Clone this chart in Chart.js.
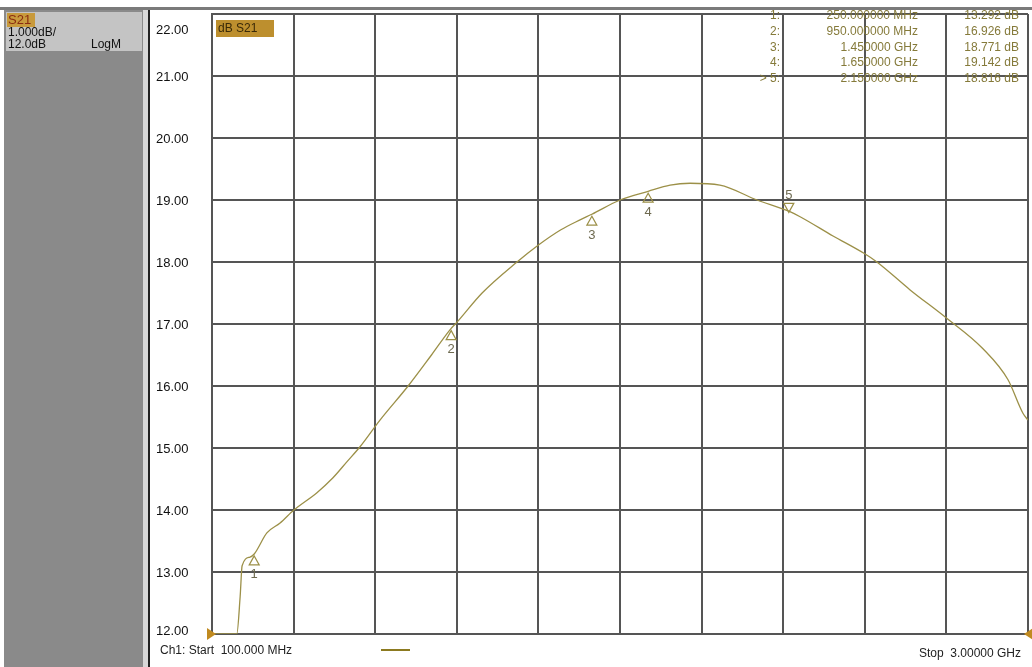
<!DOCTYPE html>
<html>
<head>
<meta charset="utf-8">
<script src="https://cdn.jsdelivr.net/npm/chart.js@4.4.0/dist/chart.umd.min.js"></script>
<style>
  html, body { margin: 0; padding: 0; background: #fff; overflow: hidden; }
  canvas { display: block; }
</style>
</head>
<body>
<canvas id="vna" width="1032" height="667" style="width:1032px;height:667px"></canvas>
<script>
    // trace S21 (MHz, dB)
    var freqMHz = [100, 150, 188, 200, 207, 235, 250, 295, 342, 391, 473, 530, 580, 626, 697, 797, 880, 950, 965,
        1060, 1184, 1259, 1340, 1408, 1450, 1550, 1650, 1728, 1799, 1905, 2037, 2150, 2190, 2307, 2417, 2463,
        2581, 2709, 2840, 2929, 2982, 3000];
    var s21dB = [12.0, 12.0, 12.0, 12.6, 13.1, 13.24, 13.29, 13.63, 13.79, 14.0, 14.28, 14.52, 14.78, 15.02, 15.45, 16.0, 16.5, 16.93, 17.0,
        17.5, 18.0, 18.27, 18.52, 18.68, 18.77, 19.0, 19.14, 19.24, 19.27, 19.24, 19.0, 18.82, 18.73, 18.42, 18.14, 18.0,
        17.55, 17.1, 16.6, 16.1, 15.56, 15.45];

    // markers
    var markerNo = ['1', '2', '3', '4', '5'];
    var markerMHz = [250, 950, 1450, 1650, 2150];
    var markerDb = [13.292, 16.926, 18.771, 19.142, 18.816];
    var markerFreqText = ['250.000000 MHz', '950.000000 MHz', '1.450000 GHz', '1.650000 GHz', '2.150000 GHz'];
    var markerValText = ['13.292 dB', '16.926 dB', '18.771 dB', '19.142 dB', '18.816 dB'];
    var activeMarker = 4;

    // axis
    var startMHz = 100, stopMHz = 3000;
    var refMin = 12, refMax = 22;
    var yTickLabels = ['12.00', '13.00', '14.00', '15.00', '16.00', '17.00', '18.00', '19.00', '20.00', '21.00', '22.00'];

    var traceColor = '#9c9048';
    var markTextColor = '#857a3a';
    var gridColor = '#555555';

    var pts = freqMHz.map(function (f, i) { return { x: f, y: s21dB[i] }; });

    var screenPlugin = {
        id: 'screen',
        beforeDraw: function (chart) {
            var c = chart.ctx;
            c.save();
            c.fillStyle = '#ffffff';
            c.fillRect(0, 0, chart.width, chart.height);
            // top bar
            c.fillStyle = '#7a7a7a';
            c.fillRect(0, 7, chart.width, 3);
            // left panel
            c.fillStyle = '#8a8a8a';
            c.fillRect(4, 10, 139, chart.height - 10);
            c.fillStyle = '#c4c4c4';
            c.fillRect(6, 12, 136, 39);
            c.fillStyle = '#d8d8d8';
            c.fillRect(143, 10, 5, chart.height - 10);
            c.fillStyle = '#222222';
            c.fillRect(148, 10, 2, chart.height - 10);
            c.restore();
        },
        afterDraw: function (chart) {
            var c = chart.ctx;
            var xs = chart.scales.x, ys = chart.scales.y;
            var a = chart.chartArea;
            c.save();
            c.font = '13px "Liberation Sans", Arial, sans-serif';
            c.textBaseline = 'middle';

            // S21 channel box
            c.fillStyle = '#c89a3c';
            c.fillRect(7, 13, 28, 14);
            c.fillStyle = '#8a2c10';
            c.textAlign = 'left';
            c.fillText('S21', 8, 20);
            c.fillStyle = '#111';
            c.font = '12px "Liberation Sans", Arial, sans-serif';
            c.fillText('1.000dB/', 8, 33);
            c.fillText('12.0dB', 8, 45);
            c.fillText('LogM', 91, 45);

            // y labels
            c.font = '13px "Liberation Sans", Arial, sans-serif';
            c.fillStyle = '#111';
            yTickLabels.forEach(function (t) {
                var py = ys.getPixelForValue(parseFloat(t));
                py = Math.max(a.top + 16, Math.min(a.bottom - 3, py + 1));
                c.fillText(t, 156, py);
            });

            // dB S21 title
            c.fillStyle = '#bd8f2e';
            c.fillRect(216, 20, 58, 17);
            c.fillStyle = '#3a2a08';
            c.font = '12px "Liberation Sans", Arial, sans-serif';
            c.fillText('dB S21', 218, 29);

            // marker table
            c.font = '12px "Liberation Sans", Arial, sans-serif';
            c.fillStyle = markTextColor;
            c.textAlign = 'right';
            for (var i = 0; i < markerNo.length; i++) {
                var ry = 16 + i * 15.6;
                c.fillText((i === activeMarker ? '> ' : '') + markerNo[i] + ':', 780, ry);
                c.fillText(markerFreqText[i], 918, ry);
                c.fillText(markerValText[i], 1019, ry);
            }

            // marker triangles on trace
            c.strokeStyle = traceColor;
            c.lineWidth = 1.2;
            c.textAlign = 'center';
            c.font = '13px "Liberation Sans", Arial, sans-serif';
            c.fillStyle = '#6e6a50';
            for (var j = 0; j < markerMHz.length; j++) {
                var px = xs.getPixelForValue(markerMHz[j]);
                var py2 = ys.getPixelForValue(markerDb[j]);
                c.beginPath();
                if (j === activeMarker) {
                    c.moveTo(px, py2 + 1);
                    c.lineTo(px - 5, py2 - 8);
                    c.lineTo(px + 5, py2 - 8);
                    c.closePath();
                    c.stroke();
                    c.fillText(markerNo[j], px, py2 - 16);
                } else {
                    c.moveTo(px, py2 + 2);
                    c.lineTo(px - 5, py2 + 11);
                    c.lineTo(px + 5, py2 + 11);
                    c.closePath();
                    c.stroke();
                    c.fillText(markerNo[j], px, py2 + 21);
                }
            }

            // reference arrows at the edges
            var ry0 = ys.getPixelForValue(refMin);
            c.fillStyle = '#c08a20';
            c.beginPath();
            c.moveTo(a.left + 4, ry0);
            c.lineTo(a.left - 5, ry0 - 6);
            c.lineTo(a.left - 5, ry0 + 6);
            c.closePath();
            c.fill();
            c.beginPath();
            c.moveTo(a.right - 4, ry0);
            c.lineTo(a.right + 5, ry0 - 6);
            c.lineTo(a.right + 5, ry0 + 6);
            c.closePath();
            c.fill();

            // footer
            c.fillStyle = '#222';
            c.textAlign = 'left';
            c.font = '12px "Liberation Sans", Arial, sans-serif';
            c.fillText('Ch1: Start  ' + startMHz.toFixed(3) + ' MHz', 160, 651);
            c.strokeStyle = '#8c7a20';
            c.lineWidth = 2;
            c.beginPath();
            c.moveTo(381, 650);
            c.lineTo(410, 650);
            c.stroke();
            c.textAlign = 'right';
            c.fillText('Stop  ' + (stopMHz / 1000).toFixed(5) + ' GHz', 1021, 654);
            c.restore();
        }
    };

    var ctx = document.getElementById('vna').getContext('2d');
    var chart = new Chart(ctx, {
        type: 'scatter',
        data: {
            datasets: [{
                data: pts,
                showLine: true,
                borderColor: traceColor,
                borderWidth: 1.3,
                pointRadius: 0,
                cubicInterpolationMode: 'monotone'
            }]
        },
        options: {
            responsive: false,
            maintainAspectRatio: false,
            animation: false,
            devicePixelRatio: 1,
            layout: { padding: { left: 212, top: 14, right: 4, bottom: 33 } },
            plugins: { legend: { display: false }, tooltip: { enabled: false } },
            scales: {
                x: {
                    type: 'linear',
                    min: startMHz,
                    max: stopMHz,
                    ticks: { display: false, stepSize: (stopMHz - startMHz) / 10 },
                    grid: { color: gridColor, lineWidth: 2, drawTicks: false },
                    border: { color: gridColor, width: 2 }
                },
                y: {
                    min: refMin,
                    max: refMax,
                    ticks: { display: false, stepSize: 1 },
                    grid: { color: gridColor, lineWidth: 2, drawTicks: false },
                    border: { color: gridColor, width: 2 }
                }
            }
        },
        plugins: [screenPlugin]
    });
</script>
</body>
</html>
